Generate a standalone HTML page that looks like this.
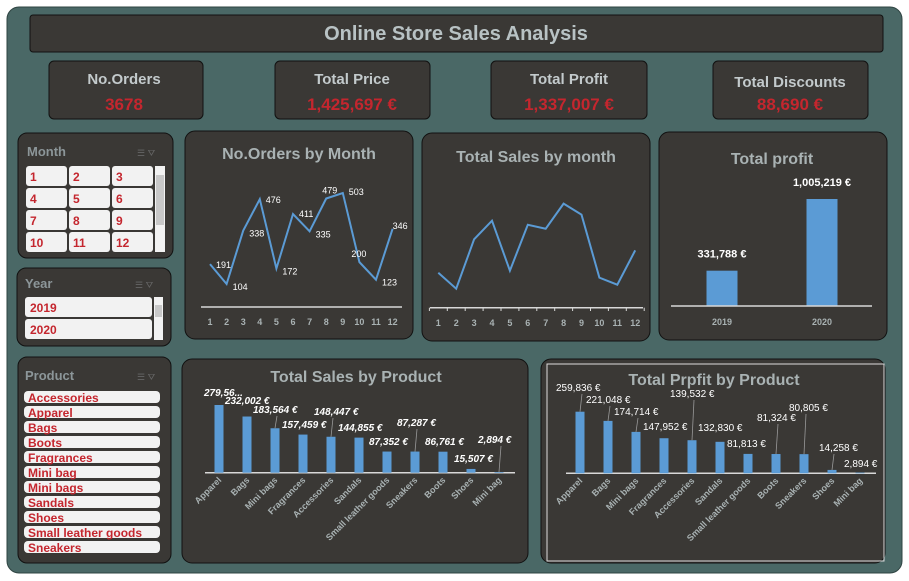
<!DOCTYPE html>
<html><head><meta charset="utf-8"><style>
body{margin:0;background:#fff;width:909px;height:581px;overflow:hidden}
svg{display:block;font-family:"Liberation Sans",sans-serif}
.t{fill:#a9b2b3;font-weight:bold;font-size:16px}
.kt{fill:#c3cacc;font-weight:bold;font-size:15px}
.kv{fill:#c4262e;font-weight:bold;font-size:17px}
.sl{fill:#c4262e;font-weight:bold;font-size:12px}
.ax{fill:#a9b2b3;font-weight:bold;font-size:9px}
.dl{fill:#fff;font-size:9px}
</style></head><body>
<svg id="s" width="909" height="581" viewBox="0 0 909 581">
<rect x="7" y="7" width="895" height="566" rx="12" fill="#4a6866" stroke="#2f4442"/>
<rect x="30" y="15" width="853" height="37" rx="3" fill="#3a3835" stroke="#111"/>
<text x="456" y="40" text-anchor="middle" fill="#b8c2c4" font-weight="bold" font-size="20">Online Store Sales Analysis</text>

<g><rect x="49" y="61" width="154" height="58" rx="5" fill="#3a3835" stroke="#111"/><text class="kt" x="124" y="84" text-anchor="middle">No.Orders</text><text class="kv" x="124" y="110" text-anchor="middle">3678</text></g>
<g><rect x="275" y="61" width="155" height="58" rx="5" fill="#3a3835" stroke="#111"/><text class="kt" x="352" y="84" text-anchor="middle">Total Price</text><text class="kv" x="352" y="110" text-anchor="middle">1,425,697 €</text></g>
<g><rect x="491" y="61" width="156" height="58" rx="5" fill="#3a3835" stroke="#111"/><text class="kt" x="569" y="84" text-anchor="middle">Total Profit</text><text class="kv" x="569" y="110" text-anchor="middle">1,337,007 €</text></g>
<g><rect x="713" y="61" width="155" height="58" rx="5" fill="#3a3835" stroke="#111"/><text class="kt" x="790" y="87" text-anchor="middle">Total Discounts</text><text class="kv" x="790" y="110" text-anchor="middle">88,690 €</text></g>

<g><rect x="18" y="133" width="155" height="125" rx="9" fill="#3a3835" stroke="#111"/><text x="27" y="156" fill="#8c9699" font-weight="bold" font-size="13">Month</text><text x="137" y="156" fill="#666" font-size="9">☰ ⛛</text><g id="mon"></g>
<rect x="155" y="166" width="10" height="86" fill="#f2f2f2"/><rect x="156" y="175" width="8" height="50" fill="#c8c8c8"/></g>
<g><rect x="17" y="268" width="154" height="78" rx="9" fill="#3a3835" stroke="#111"/><text x="25" y="288" fill="#8c9699" font-weight="bold" font-size="13">Year</text><text x="135" y="288" fill="#666" font-size="9">☰ ⛛</text>
<rect x="25" y="297" width="127" height="20" rx="3" fill="#f2f2f2"/><text class="sl" x="30" y="312">2019</text>
<rect x="25" y="319" width="127" height="20" rx="3" fill="#f2f2f2"/><text class="sl" x="30" y="334">2020</text>
<rect x="154" y="297" width="9" height="43" fill="#f2f2f2"/><rect x="155" y="305" width="7" height="12" fill="#c8c8c8"/></g>
<g><rect x="18" y="357" width="153" height="206" rx="9" fill="#3a3835" stroke="#111"/><text x="25" y="380" fill="#8c9699" font-weight="bold" font-size="13">Product</text><text x="137" y="380" fill="#666" font-size="9">☰ ⛛</text><g id="prod"></g></g>

<g><rect x="185" y="131" width="228" height="208" rx="10" fill="#3a3835" stroke="#111"/><text class="t" x="299" y="159" text-anchor="middle">No.Orders by Month</text><g id="oc"></g></g>
<g><rect x="422" y="133" width="228" height="208" rx="10" fill="#3a3835" stroke="#111"/><text class="t" x="536" y="162" text-anchor="middle">Total Sales by month</text><g id="sc"></g></g>
<g><rect x="659" y="132" width="228" height="208" rx="10" fill="#3a3835" stroke="#111"/><text class="t" x="772" y="164" text-anchor="middle">Total profit</text><g id="pc"></g></g>
<g><rect x="182" y="359" width="346" height="204" rx="10" fill="#3a3835" stroke="#111"/><text class="t" x="356" y="382" text-anchor="middle">Total Sales by Product</text><g id="spc"></g></g>
<g><rect x="541" y="359" width="344" height="204" rx="10" fill="#3a3835" stroke="#111"/><rect x="547" y="364" width="337" height="197" fill="none" stroke="#ddd"/><text class="t" x="714" y="385" text-anchor="middle">Total Prpfit by Product</text><g id="ppc"></g></g>
</svg>
<script>
const months=["1","2","3","4","5","6","7","8","9","10","11","12"];
const orders=[191,104,338,476,172,411,335,479,503,200,123,346];
const sales=[69600,37800,136000,173000,73600,165000,157000,207000,185000,59700,45700,114000];
const years=["2019","2020"];
const yearProfit=[331788,1005219];
const salesCats=["Apparel","Bags","Mini bags","Fragrances","Accessories","Sandals","Small leather goods","Sneakers","Boots","Shoes","Mini bag"];
const salesVals=[279560,232002,183564,157459,148447,144855,87352,87287,86761,15507,2894];
const salesLabels=["279,56...","232,002 €","183,564 €","157,459 €","148,447 €","144,855 €","87,352 €","87,287 €","86,761 €","15,507 €","2,894 €"];
const profCats=["Apparel","Bags","Mini bags","Fragrances","Accessories","Sandals","Small leather goods","Boots","Sneakers","Shoes","Mini bag"];
const profVals=[259836,221048,174714,147952,139532,132830,81813,81324,80805,14258,2894];
const profLabels=["259,836 €","221,048 €","174,714 €","147,952 €","139,532 €","132,830 €","81,813 €","81,324 €","80,805 €","14,258 €","2,894 €"];
const products=["Accessories","Apparel","Bags","Boots","Fragrances","Mini bag","Mini bags","Sandals","Shoes","Small leather goods","Sneakers"];

const NS="http://www.w3.org/2000/svg";
function mk(p,tag,a,txt){const e=document.createElementNS(NS,tag);for(const k in a)e.setAttribute(k,a[k]);if(txt!==undefined)e.textContent=txt;p.appendChild(e);return e;}

const mon=document.getElementById('mon');
months.forEach((m,i)=>{const c=i%3,r=Math.floor(i/3);const x=26+c*43,y=166+r*22;
const b=mk(mon,'rect',{x:x,y:y,width:41,height:20,rx:3,fill:'#f2f2f2'});


mk(mon,'text',{class:'sl',x:x+4,y:y+15},m);});
const prod=document.getElementById('prod');
products.forEach((p,i)=>{const y=391+i*15;
const b=mk(prod,'rect',{x:24,y:y,width:136,height:12,rx:4,fill:'#f2f2f2'});


mk(prod,'text',{class:'sl',x:28,y:y+11},p);});

const oc=document.getElementById('oc');
const ox=i=>210+i*16.6, oy=v=>284-(v-104)*0.228;
mk(oc,'line',{x1:201,x2:402,y1:307,y2:307,stroke:'#d8d8d8','stroke-width':1.5});
const onudge=[[6,4],[6,6],[6,6],[6,4],[6,6],[6,3],[6,6],[-4,-5],[6,2],[-8,-5],[6,6],[0,0]];
const ol=mk(oc,'polyline',{points:orders.map((v,i)=>ox(i)+','+oy(v)).join(' '),fill:'none',stroke:'#5b9bd5','stroke-width':2});


orders.forEach((v,i)=>{mk(oc,'text',{class:'dl',x:ox(i)+onudge[i][0],y:oy(v)+onudge[i][1]},String(v));
mk(oc,'text',{class:'ax',x:ox(i),y:325,'text-anchor':'middle'},months[i]);});

const sc=document.getElementById('sc');
const sx=i=>438.3+i*17.9, sy=v=>307.7-v/1989;
mk(sc,'line',{x1:430,x2:643,y1:307.7,y2:307.7,stroke:'#d8d8d8','stroke-width':1.5});
for(let i=0;i<=12;i++)mk(sc,'line',{x1:429.4+i*17.9,x2:429.4+i*17.9,y1:307.7,y2:311,stroke:'#d8d8d8'});
const sl=mk(sc,'polyline',{points:sales.map((v,i)=>sx(i)+','+sy(v)).join(' '),fill:'none',stroke:'#5b9bd5','stroke-width':2});


months.forEach((m,i)=>mk(sc,'text',{class:'ax',x:sx(i),y:326,'text-anchor':'middle'},m));

const pc=document.getElementById('pc');
const py=v=>306-v*107/1005219;
years.forEach((yr,i)=>{const cx=722+i*100;
const b=mk(pc,'rect',{x:cx-15.5,y:py(yearProfit[i]),width:31,height:306-py(yearProfit[i]),fill:'#5b9bd5'});


mk(pc,'text',{x:cx,y:py(yearProfit[i])-13,'text-anchor':'middle',fill:'#fff','font-weight':'bold','font-size':'11'},yearProfit[i].toLocaleString('en-US')+' €');
mk(pc,'text',{class:'ax',x:cx,y:325,'text-anchor':'middle'},yr);});
mk(pc,'line',{x1:671,x2:872,y1:306,y2:306,stroke:'#d8d8d8','stroke-width':1.5});

function prodChart(id,cats,vals,labels,x0,axisY,maxH,lblPos,style){
const g=document.getElementById(id);
const max=vals[0];
mk(g,'line',{x1:x0-14,x2:x0+296,y1:axisY,y2:axisY,stroke:'#d8d8d8','stroke-width':1.5});
cats.forEach((c,i)=>{const cx=x0+i*28,h=vals[i]/max*maxH;
const b=mk(g,'rect',{x:cx-4.5,y:axisY-h,width:9,height:h,fill:'#5b9bd5'});


mk(g,'text',{x:lblPos[i][0],y:lblPos[i][1],fill:'#fff','font-size':style.fs,'font-weight':style.fw,'font-style':style.fi},labels[i]);
if(lblPos[i][1]<axisY-h-14){mk(g,'line',{x1:cx,y1:axisY-h,x2:cx+2,y2:lblPos[i][1]+3,stroke:'#999','stroke-width':0.8});}
mk(g,'text',{class:'ax','font-size':'9.5',x:cx+3,y:axisY+8,'text-anchor':'end',transform:'rotate(-45 '+(cx+3)+' '+(axisY+8)+')'},c);});
}
prodChart('spc',salesCats,salesVals,salesLabels,219,472.7,67.7,
[[204,396],[225,404],[253,413],[282,428],[314,415],[338,431],[369,445],[397,426],[425,445],[454,462],[478,443]],{fs:'10',fw:'bold',fi:'italic'});
prodChart('ppc',profCats,profVals,profLabels,580,473.3,61.6,
[[556,391],[586,403],[614,415],[643,430],[670,397],[698,431],[727,447],[757,421],[789,411],[819,451],[844,467]],{fs:'10',fw:'normal',fi:'normal'});
</script>
</body></html>
